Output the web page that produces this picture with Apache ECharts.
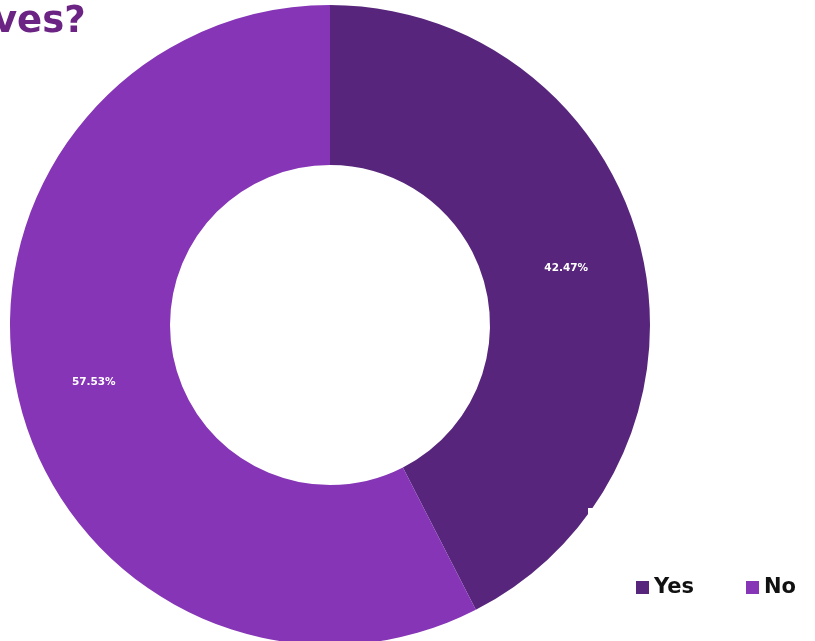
<!DOCTYPE html>
<html><head><meta charset="utf-8">
<script src="https://cdn.jsdelivr.net/npm/echarts@6/dist/echarts.min.js"></script>
<style>html,body{margin:0;padding:0;background:#fff}#c{width:815px;height:641px}</style>
</head><body><div id="c"></div>
<script>
const categories = ['Yes', 'No'];
const values = [42.47, 57.53];
const colors = ['#57267c', '#8535b6'];
const titleText = 'ves?';

const chart = echarts.init(document.getElementById('c'));
chart.setOption({
  animation: false,
  backgroundColor: '#fff',
  color: colors,
  legend: {
    data: categories,
    left: 631, top: 572,
    z: 100,
    itemWidth: 13, itemHeight: 13, itemGap: 52,
    icon: 'rect',
    textStyle: { fontFamily: '"DejaVu Sans", sans-serif', fontWeight: 'bold', fontSize: 21, color: '#111' }
  },
  graphic: [
    { type: 'rect', z: 50, shape: { x: 588, y: 508, width: 227, height: 133 }, style: { fill: '#fff' } },
    { type: 'text', z: 60, left: -7, top: 4, style: { text: titleText, fill: '#6b2384', font: 'bold 37px "DejaVu Sans", sans-serif' } }
  ],
  series: [{
    type: 'pie',
    center: [330, 325],
    radius: [160, 320],
    startAngle: 90,
    clockwise: true,
    z: 2,
    itemStyle: { borderColor: 'transparent', borderWidth: 0 },
    label: {
      position: 'inside',
      color: '#fff',
      fontSize: 10.5,
      fontWeight: 'bold',
      fontFamily: '"DejaVu Sans", sans-serif',
      formatter: p => p.value.toFixed(2) + '%'
    },
    labelLine: { show: false },
    data: categories.map((c, i) => ({ name: c, value: values[i] }))
  }]
});
</script></body></html>
